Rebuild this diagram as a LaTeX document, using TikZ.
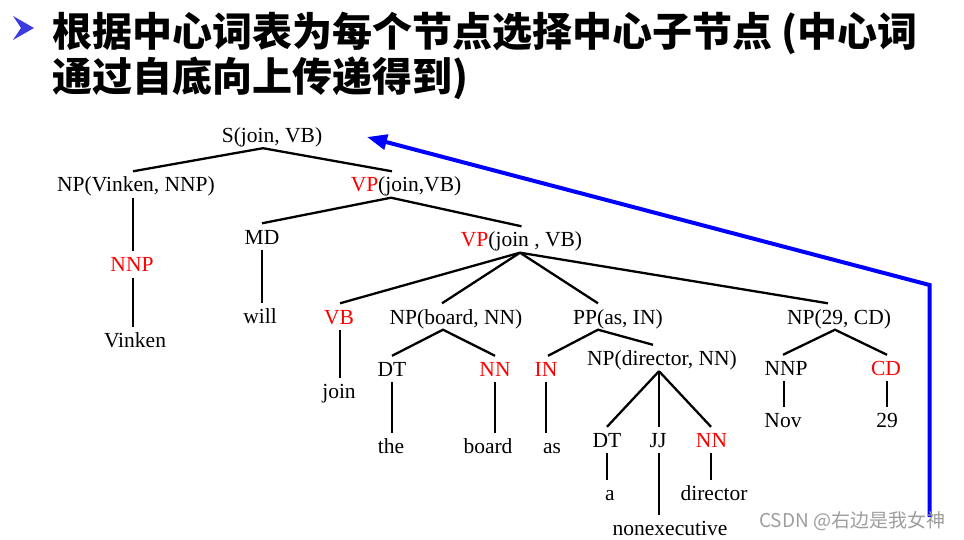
\documentclass[tikz,border=0pt]{standalone}
\usepackage{fontspec}
\usetikzlibrary{arrows.meta}
\setmainfont{Liberation Serif}
\newfontfamily\cjk{Noto Sans CJK SC}
\newcommand\redtxt[1]{\textcolor{red}{#1}}
\definecolor{bulletblue}{RGB}{60,60,225}
\begin{document}
\begin{tikzpicture}[x=1pt,y=-1pt,
  tn/.style={inner xsep=0pt, inner ysep=0pt, text height=15pt, text depth=0pt,
             minimum height=26pt, font=\fontsize{21.5}{24}\selectfont},
  hn/.style={tn, text=red},
  br/.style={line width=2.3pt, black},
  ttl/.style={anchor=base west, inner sep=0pt, font=\cjk\bfseries\fontsize{40}{48}\selectfont},
  blueline/.style={line width=4pt, blue, line join=miter, -{Triangle[length=20pt,width=15pt]}}]
\useasboundingbox (0,0) rectangle (964,540);
\fill[white] (0,0) rectangle (964,540);
% title
\fill[bulletblue] (13,16) -- (34,28) -- (13,40) -- (21,28) -- cycle;
\node[ttl] (t1) at (52,47) {根据中心词表为每个节点选择中心子节点 (中心词};
\node[ttl] (t2) at (52,92) {通过自底向上传递得到)};
% nodes
\node[tn] (S) at (272,135) {S(join, VB)};
\node[tn] (NPv) at (136,184.5) {NP(Vinken, NNP)};
\node[tn] (VP1) at (406,184.5) {\redtxt{VP}(join,VB)};
\node[hn] (NNP) at (132,264.5) {NNP};
\node[tn] (Vinken) at (135,340) {Vinken};
\node[tn] (MD) at (262,236.5) {MD};
\node[tn] (will) at (260,316) {will};
\node[tn] (VP2) at (521.5,239.5) {\redtxt{VP}(join , VB)};
\node[hn] (VB) at (339,316.5) {VB};
\node[tn] (join) at (339,391) {join};
\node[tn] (NPb) at (456,316.5) {NP(board, NN)};
\node[tn] (PP) at (618,316.5) {PP(as, IN)};
\node[tn] (NP29) at (839,316.5) {NP(29, CD)};
\node[tn] (DT) at (392,369) {DT};
\node[hn] (NN) at (495,369) {NN};
\node[hn] (IN) at (546,369) {IN};
\node[tn] (NPd) at (662,358) {NP(director, NN)};
\node[tn] (NNPb) at (786,368) {NNP};
\node[hn] (CD) at (886,368) {CD};
\node[tn] (the) at (391,446) {the};
\node[tn] (board) at (488,446) {board};
\node[tn] (as) at (552,446) {as};
\node[tn] (DTb) at (607,440) {DT};
\node[tn] (JJ) at (658,440) {JJ};
\node[hn] (NNb) at (711.5,440) {NN};
\node[tn] (Nov) at (783,420) {Nov};
\node[tn] (n29) at (887,420) {29};
\node[tn] (a) at (610,493) {a};
\node[tn] (director) at (714,493) {director};
\node[tn] (nonexec) at (670,528) {nonexecutive};
% edges
\draw[br] ([xshift=-3pt]NPv.north) -- ([xshift=-9pt]S.south) -- ([xshift=-14pt]VP1.north);
\draw[br] ([xshift=-3pt]NPv.south) -- ([xshift=1pt]NNP.north);
\draw[br] ([xshift=1pt]NNP.south) -- ([xshift=-2pt]Vinken.north);
\draw[br] (MD.north) -- ([xshift=-15pt]VP1.south) -- (VP2.north);
\draw[br] (MD.south) -- ([xshift=2pt]will.north);
\draw[br] ([xshift=-1.5pt]VP2.south) -- ([xshift=1pt]VB.north);
\draw[br] ([xshift=-1.5pt]VP2.south) -- ([xshift=-14pt]NPb.north);
\draw[br] ([xshift=-1.5pt]VP2.south) -- ([xshift=-20pt]PP.north);
\draw[br] ([xshift=-1.5pt]VP2.south) -- ([xshift=-11pt]NP29.north);
\draw[br] ([xshift=1pt]VB.south) -- ([xshift=1pt]join.north);
\draw[br] (DT.north) -- ([xshift=-13pt]NPb.south) -- (NN.north);
\draw[br] (DT.south) -- ([xshift=1pt]the.north);
\draw[br] (NN.south) -- ([xshift=7pt]board.north);
\draw[br] (IN.south) -- ([xshift=-6pt]as.north);
\draw[br] ([xshift=2pt]IN.north) -- ([xshift=-20pt]PP.south) -- ([xshift=-9pt]NPd.north);
\draw[br] ([xshift=-3pt]NPd.south) -- (DTb.north);
\draw[br] ([xshift=-3pt]NPd.south) -- ([xshift=1pt]JJ.north);
\draw[br] ([xshift=-3pt]NPd.south) -- ([xshift=-0.5pt]NNb.north);
\draw[br] (DTb.south) -- ([xshift=-3pt]a.north);
\draw[br] ([xshift=1pt]JJ.south) -- ([xshift=-11pt]nonexec.north);
\draw[br] ([xshift=-0.5pt]NNb.south) -- ([xshift=-3pt]director.north);
\draw[br] ([xshift=-3pt]NNPb.north) -- ([xshift=-4pt]NP29.south) -- ([xshift=1pt]CD.north);
\draw[br] ([xshift=-2pt]NNPb.south) -- ([xshift=1pt]Nov.north);
\draw[br] ([xshift=1pt]CD.south) -- (n29.north);
% blue arrow
\coordinate (arrowBase) at (929.5,517);
\coordinate (arrowBend) at (929.5,285);
\coordinate (arrowTip) at (367,137);
\draw[blueline] (arrowBase) -- (arrowBend) -- (arrowTip);
% watermark
\node[anchor=west, inner sep=0pt, text=black!38, font=\cjk\fontsize{19}{22}\selectfont] (wm) at (759,521) {CSDN @右边是我女神};
\end{tikzpicture}
\end{document}
